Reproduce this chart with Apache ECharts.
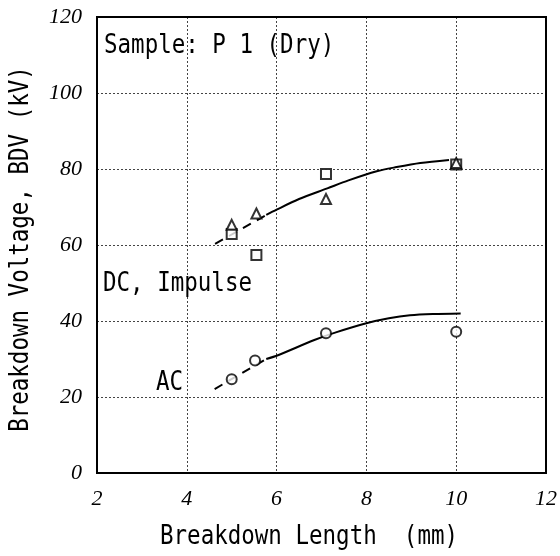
<!DOCTYPE html>
<html><head><meta charset="utf-8">
<script src="https://cdn.jsdelivr.net/npm/echarts@6/dist/echarts.min.js"></script>
<style>html,body{margin:0;padding:0;background:#fff}#c{width:560px;height:556px}</style>
</head><body><div id="c"></div>
<script>
// Tick setup
const xMin = 2, xMax = 12, xStep = 2;
const yMin = 0, yMax = 120, yStep = 20;

const squareX   = [5.0, 5.55, 7.1, 10.0];
const squareY   = [62.9, 57.4, 78.7, 81.2];
const triangleX = [5.0, 5.55, 7.1, 10.0];
const triangleY = [65.3, 68.3, 72.1, 81.6];
const circleX   = [5.0, 5.52, 7.1, 10.0];
const circleY   = [24.7, 29.6, 36.8, 37.2];

// Fitted curves
const dcDashX  = [4.63, 5.77];
const dcDashY  = [60.3, 67.9];
const dcSolidX = [5.77, 6.0, 6.5, 7.13, 7.6, 8.23, 8.67, 9.2, 9.84];
const dcSolidY = [67.9, 69.3, 72.1, 74.9, 77.0, 79.4, 80.5, 81.6, 82.4];
const acDashX  = [4.62, 5.77];
const acDashY  = [22.1, 30.0];
const acSolidX = [5.77, 6.03, 6.84, 7.32, 8.0, 8.5, 8.97, 9.48, 10.1];
const acSolidY = [30.0, 31.0, 35.0, 37.0, 39.4, 40.7, 41.5, 41.85, 42.0];

// Texts
const xTitle = 'Breakdown Length  (mm)';
const yTitle = 'Breakdown Voltage, BDV (kV)';
const sampleLabel = 'Sample: P 1 (Dry)';
const dcLabel = 'DC, Impulse';
const acLabel = 'AC';

const zip = (xs, ys) => xs.map((x, i) => [x, ys[i]]);
const monoFont = '22.5px "DejaVu Sans Mono", "Liberation Mono", monospace';

function label(text, x, y, align, extra) {
  return Object.assign({type: 'text', x: x, y: y, z: 10, scaleY: 1.15,
    style: {text: text, font: monoFont, fill: '#000', textAlign: align, textVerticalAlign: 'middle', align: align, verticalAlign: 'middle'}}, extra || {});
}

const lineBase = {type: 'line', symbol: 'none', silent: true, smooth: 0.3, z: 2};
const scatterBase = {type: 'scatter', symbolSize: 10, z: 5,
  itemStyle: {color: '#fff', borderColor: '#000', borderWidth: 2}};

const chart = echarts.init(document.getElementById('c'), null, {renderer: 'canvas'});
chart.setOption({
  animation: false,
  backgroundColor: '#fff',
  grid: {left: 97, right: 8, top: 17, bottom: 83, show: true, borderColor: '#000', borderWidth: 2, backgroundColor: 'transparent', z: 3},
  xAxis: {
    type: 'value', min: xMin, max: xMax, interval: xStep,
    axisLine: {show: true, onZero: false, lineStyle: {color: '#000', width: 2}},
    axisTick: {show: false},
    axisLabel: {color: '#000', fontFamily: '"Liberation Serif", serif', fontStyle: 'italic', fontSize: 22, margin: 15},
    splitLine: {show: true, lineStyle: {color: '#444', width: 1, type: [2, 2]}}
  },
  yAxis: {
    type: 'value', min: yMin, max: yMax, interval: yStep,
    axisLine: {show: true, onZero: false, lineStyle: {color: '#000', width: 2}},
    axisTick: {show: false},
    axisLabel: {color: '#000', fontFamily: '"Liberation Serif", serif', fontStyle: 'italic', fontSize: 22, margin: 15},
    splitLine: {show: true, lineStyle: {color: '#444', width: 1, type: [2, 2]}}
  },
  graphic: [
    label(xTitle, 160, 537, 'left'),
    label(yTitle, 21, 249, 'center', {rotation: Math.PI / 2}),
    label(sampleLabel, 104, 46, 'left'),
    label(dcLabel, 103, 284, 'left'),
    label(acLabel, 183, 383, 'right')
  ],
  series: [
    Object.assign({}, lineBase, {name: 'DC fit (extrapolated)', data: zip(dcDashX, dcDashY), smooth: false, lineStyle: {color: '#000', width: 2, type: [9, 7]}}),
    Object.assign({}, lineBase, {name: 'DC fit', data: zip(dcSolidX, dcSolidY), lineStyle: {color: '#000', width: 2}}),
    Object.assign({}, lineBase, {name: 'AC fit (extrapolated)', data: zip(acDashX, acDashY), smooth: false, lineStyle: {color: '#000', width: 2, type: [9, 7]}}),
    Object.assign({}, lineBase, {name: 'AC fit', data: zip(acSolidX, acSolidY), lineStyle: {color: '#000', width: 2}}),
    Object.assign({}, scatterBase, {name: 'DC', symbol: 'rect', data: zip(squareX, squareY)}),
    Object.assign({}, scatterBase, {name: 'Impulse', symbol: 'triangle', data: zip(triangleX, triangleY)}),
    Object.assign({}, scatterBase, {name: 'AC', symbol: 'circle', data: zip(circleX, circleY)})
  ]
});
</script>
</body></html>
